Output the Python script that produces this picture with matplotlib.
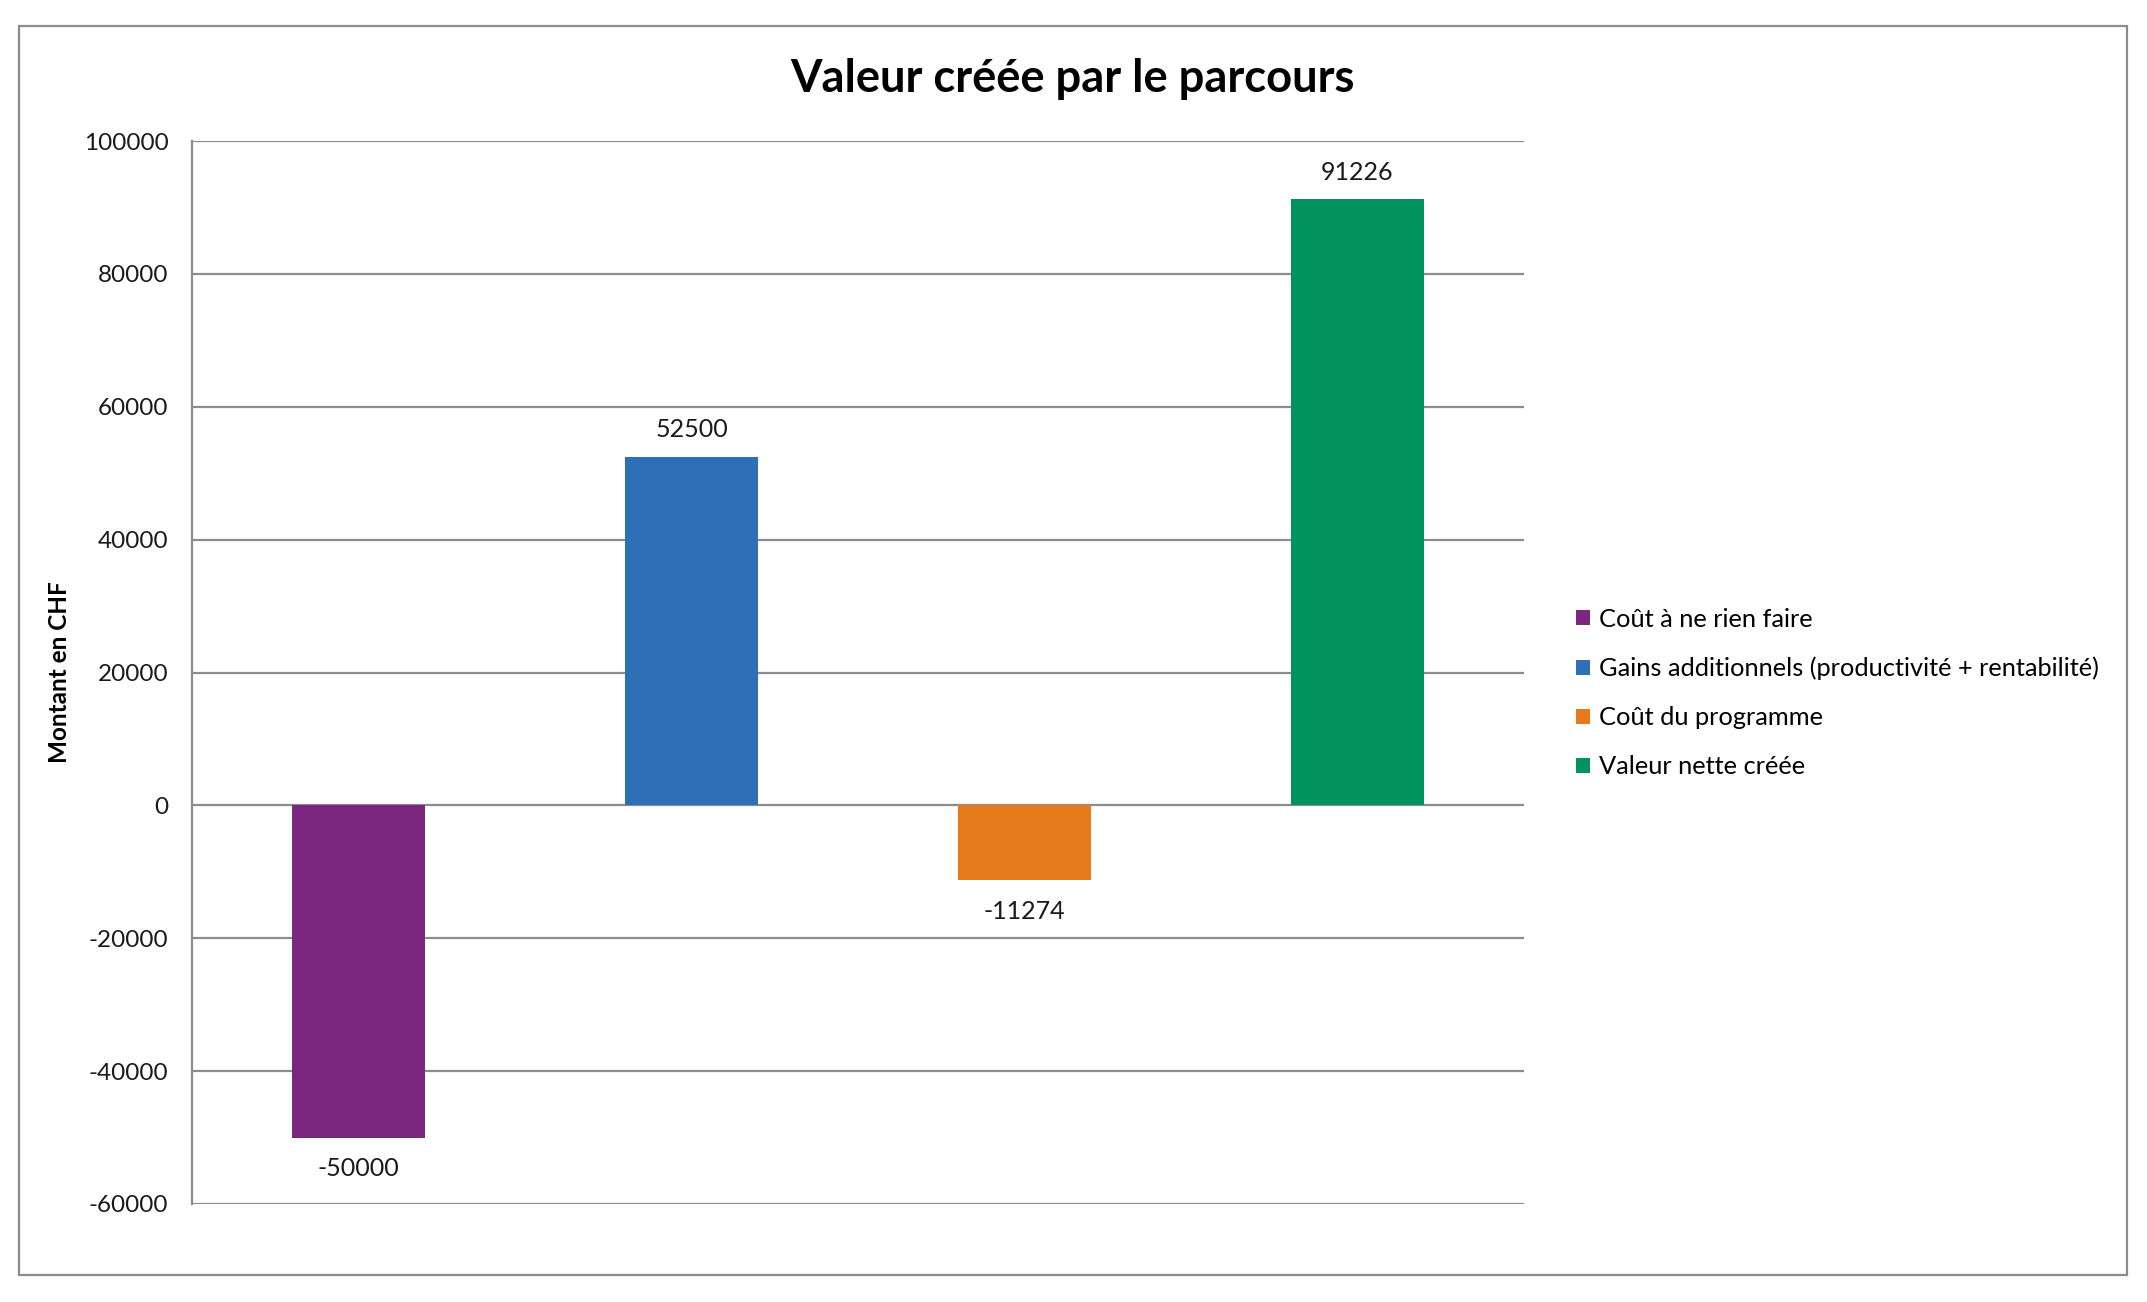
import matplotlib
matplotlib.use("Agg")
import matplotlib.pyplot as plt
from matplotlib.patches import Patch, Rectangle

categories = ["Coût à ne rien faire",
              "Gains additionnels (productivité + rentabilité)",
              "Coût du programme",
              "Valeur nette créée"]
values = [-50000, 52500, -11274, 91226]
colors = ["#7B267F", "#2E70B8", "#E67A1C", "#00935D"]
yticks = [-60000, -40000, -20000, 0, 20000, 40000, 60000, 80000, 100000]

plt.rcParams['font.family'] = ['Lato', 'DejaVu Sans']

W, H = 2147, 1302
fig = plt.figure(figsize=(W / 100, H / 100), dpi=100)
ax = fig.add_axes([192 / W, 1 - 1204 / H, (1524 - 192) / W, (1204 - 141) / H])

grid_c = "#8C8C8C"
x = list(range(len(values)))
bars = ax.bar(x, values, width=0.4, color=colors, zorder=3)
for xi, v in zip(x, values):
    off = 11 if v >= 0 else -14
    ax.annotate(f"{v}", (xi, v), xytext=(0, off), textcoords="offset points",
                ha="center", va="bottom" if v >= 0 else "top", fontsize=18, color="#1a1a1a")

ax.set_xlim(-0.5, 3.5)
ax.set_ylim(-60000, 100000)
ax.set_yticks(yticks)
ax.set_yticklabels([str(t) for t in yticks], fontsize=17.5, color="#1a1a1a")
ax.set_xticks([])
ax.tick_params(axis="y", length=0, pad=17)
ax.yaxis.grid(True, color=grid_c, linewidth=1.6, zorder=0)
ax.set_axisbelow(True)
for s in ["top", "right", "bottom"]:
    ax.spines[s].set_visible(False)
ax.spines["left"].set_color(grid_c)
ax.spines["left"].set_linewidth(1.6)
ax.set_ylabel("Montant en CHF", fontsize=17.5, fontweight="bold", labelpad=9)

fig.text(1073 / W, 1 - 79 / H, "Valeur créée par le parcours", ha="center", va="center",
         fontsize=32.7, fontweight="bold")

handles = [Patch(facecolor=c, edgecolor="none") for c in colors]
fig.legend(handles, categories, loc="center left", bbox_to_anchor=(1566 / W, 1 - 693 / H),
           frameon=False, fontsize=18.3, handlelength=0.55, handleheight=0.55,
           handletextpad=0.35, labelspacing=1.02, borderaxespad=0)

fig.patches.append(Rectangle((19 / W, 1 - 1275 / H), (2127 - 19) / W, (1275 - 26) / H,
                             transform=fig.transFigure, fill=False, edgecolor="#8C8C8C",
                             linewidth=1.6))

fig.savefig("out.png", dpi=100, facecolor="white")
